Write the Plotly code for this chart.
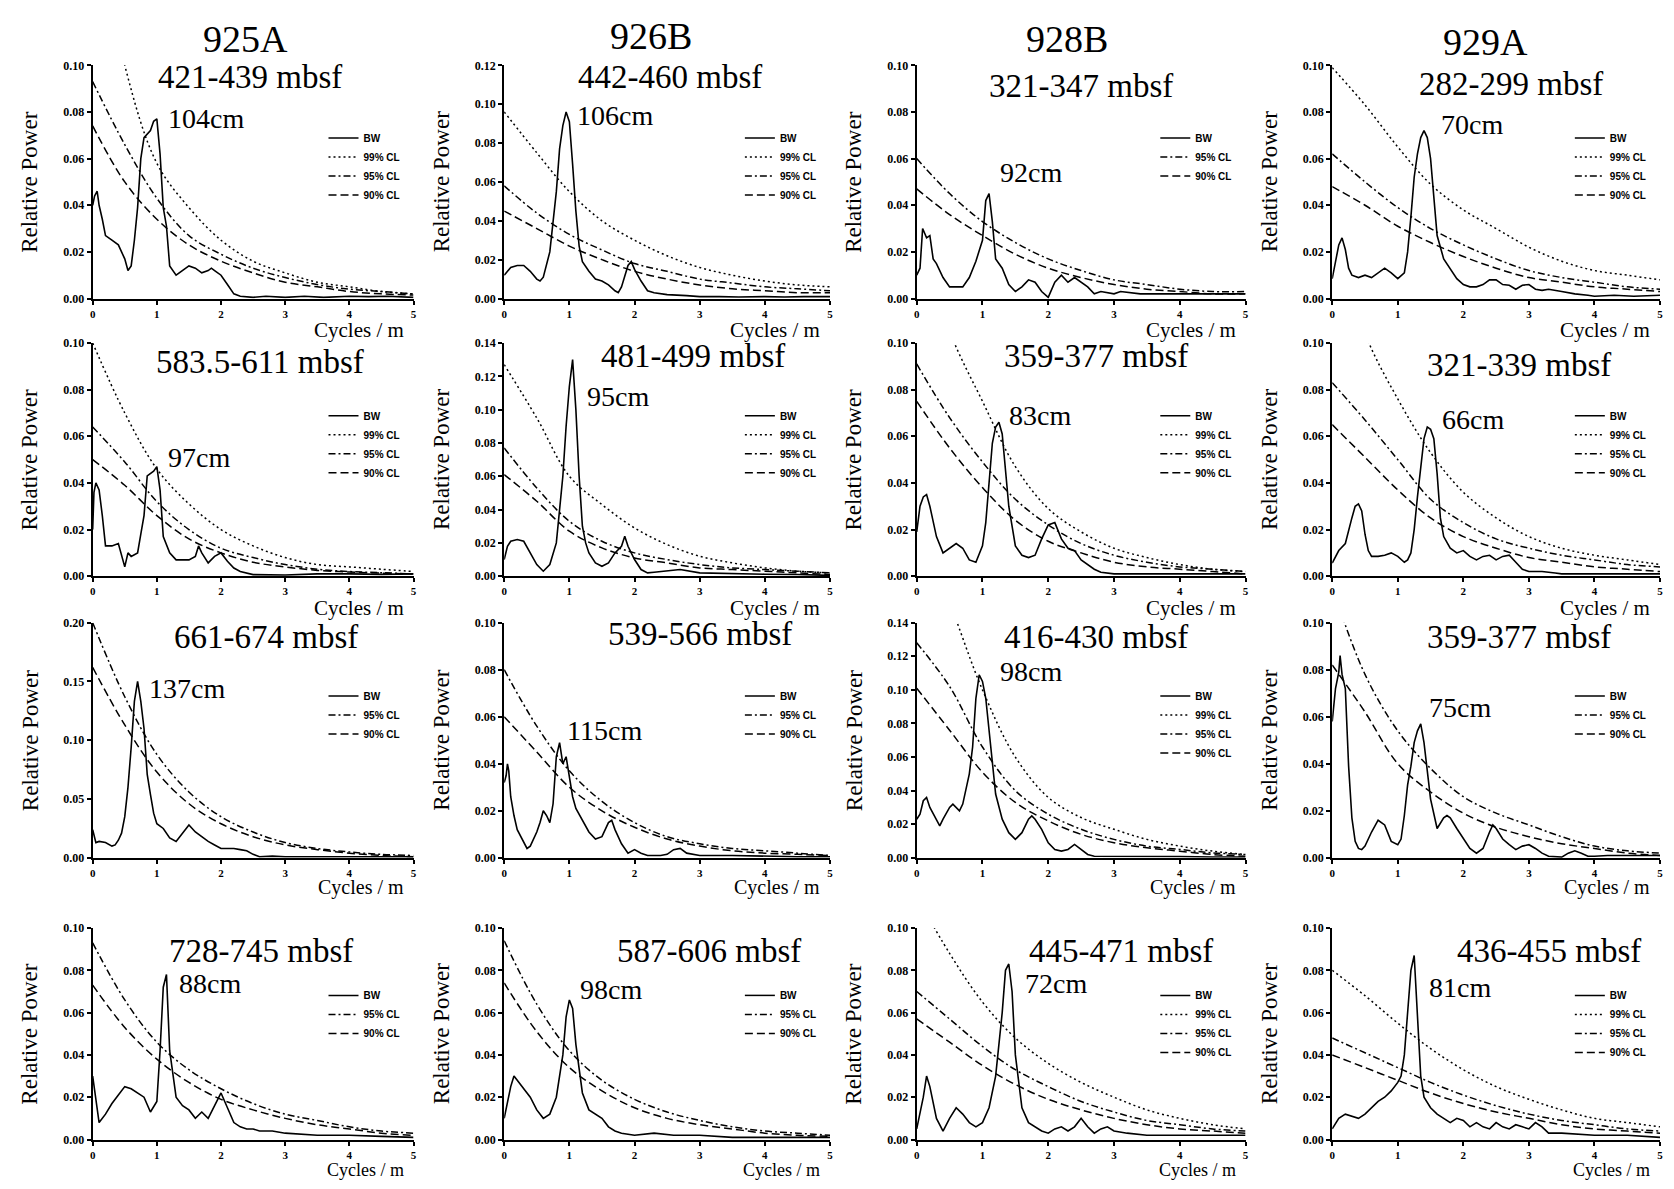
import plotly.graph_objects as go

W, H = 1674, 1189

sites = ["925A", "926B", "928B", "929A"]
depth_labels = [
    ["421-439 mbsf", "442-460 mbsf", "321-347 mbsf", "282-299 mbsf"],
    ["583.5-611 mbsf", "481-499 mbsf", "359-377 mbsf", "321-339 mbsf"],
    ["661-674 mbsf", "539-566 mbsf", "416-430 mbsf", "359-377 mbsf"],
    ["728-745 mbsf", "587-606 mbsf", "445-471 mbsf", "436-455 mbsf"],
]
peak_labels = [
    ["104cm", "106cm", "92cm", "70cm"],
    ["97cm", "95cm", "83cm", "66cm"],
    ["137cm", "115cm", "98cm", "75cm"],
    ["88cm", "98cm", "72cm", "81cm"],
]
y_max = [
    [0.10, 0.12, 0.10, 0.10],
    [0.10, 0.14, 0.10, 0.10],
    [0.20, 0.10, 0.14, 0.10],
    [0.10, 0.10, 0.10, 0.10],
]
x_ticks = [0, 1, 2, 3, 4, 5]

# ---- spectra (cycles / m , relative power) ----
freq_925A_421 = [0, 0.03, 0.07, 0.1, 0.15, 0.2, 0.3, 0.4, 0.5, 0.55, 0.6, 0.65, 0.7, 0.75, 0.8, 0.9, 0.95, 1.0, 1.05, 1.1,
                 1.15, 1.2, 1.3, 1.4, 1.5, 1.6, 1.7, 1.8, 1.85, 1.9, 2.0, 2.1, 2.2, 2.3, 2.5, 2.7, 3.0, 3.3, 3.6, 4.0, 4.3, 4.6, 5.0]
power_925A_421 = [0.040, 0.044, 0.046, 0.040, 0.034, 0.027, 0.025, 0.023, 0.017, 0.012, 0.014, 0.025, 0.039, 0.060, 0.069,
                  0.072, 0.076, 0.077, 0.062, 0.039, 0.031, 0.014, 0.010, 0.012, 0.014, 0.013, 0.011, 0.012, 0.013, 0.012,
                  0.010, 0.006, 0.002, 0.001, 0.0005, 0.001, 0.0005, 0.001, 0.0005, 0.001, 0.0008, 0.001, 0.0005]

freq_926B_442 = [0, 0.1, 0.2, 0.3, 0.4, 0.5, 0.55, 0.6, 0.7, 0.8, 0.85, 0.9, 0.95, 1.0, 1.05, 1.1, 1.15, 1.2, 1.3, 1.4, 1.5,
                 1.6, 1.7, 1.75, 1.8, 1.9, 1.95, 2.0, 2.1, 2.2, 2.3, 2.5, 2.8, 3.0, 3.3, 3.6, 4.0, 4.3, 4.6, 5.0]
power_926B_442 = [0.012, 0.016, 0.017, 0.017, 0.014, 0.010, 0.009, 0.011, 0.024, 0.055, 0.077, 0.089, 0.096, 0.091, 0.069,
                  0.045, 0.027, 0.019, 0.014, 0.010, 0.009, 0.007, 0.004, 0.003, 0.006, 0.017, 0.019, 0.015, 0.009, 0.004,
                  0.003, 0.002, 0.0015, 0.001, 0.001, 0.0008, 0.001, 0.0008, 0.001, 0.001]

freq_928B_321 = [0, 0.05, 0.09, 0.15, 0.2, 0.25, 0.3, 0.4, 0.5, 0.6, 0.7, 0.8, 0.9, 1.0, 1.05, 1.1, 1.15, 1.2, 1.3, 1.4, 1.5,
                 1.6, 1.7, 1.8, 1.9, 2.0, 2.1, 2.2, 2.3, 2.4, 2.5, 2.6, 2.7, 2.8, 3.0, 3.1, 3.4, 3.7, 4.0, 4.3, 4.6, 5.0]
power_928B_321 = [0.010, 0.013, 0.030, 0.026, 0.027, 0.017, 0.015, 0.009, 0.005, 0.005, 0.005, 0.009, 0.016, 0.025, 0.042,
                  0.045, 0.033, 0.017, 0.013, 0.006, 0.003, 0.005, 0.008, 0.007, 0.003, 0.0005, 0.007, 0.010, 0.007, 0.009,
                  0.007, 0.005, 0.002, 0.003, 0.002, 0.003, 0.002, 0.002, 0.002, 0.002, 0.002, 0.002]

freq_929A_282 = [0, 0.05, 0.1, 0.15, 0.2, 0.25, 0.3, 0.4, 0.5, 0.6, 0.7, 0.8, 0.9, 1.0, 1.1, 1.15, 1.2, 1.25, 1.3, 1.35, 1.4,
                 1.45, 1.5, 1.55, 1.6, 1.7, 1.8, 1.9, 2.0, 2.1, 2.2, 2.3, 2.4, 2.5, 2.6, 2.7, 2.8, 2.9, 3.0, 3.1, 3.2, 3.3,
                 3.5, 3.7, 3.9, 4.0, 4.3, 4.6, 5.0]
power_929A_282 = [0.0085, 0.016, 0.023, 0.026, 0.021, 0.013, 0.010, 0.009, 0.010, 0.009, 0.011, 0.013, 0.011, 0.0085, 0.011,
                  0.020, 0.035, 0.052, 0.062, 0.069, 0.072, 0.069, 0.060, 0.044, 0.027, 0.017, 0.013, 0.0085, 0.006, 0.005,
                  0.005, 0.006, 0.008, 0.008, 0.006, 0.0057, 0.004, 0.0057, 0.006, 0.004, 0.0035, 0.004, 0.003, 0.002,
                  0.0014, 0.001, 0.0014, 0.001, 0.0014]

freq_925A_583 = [0, 0.02, 0.05, 0.1, 0.15, 0.2, 0.3, 0.4, 0.5, 0.55, 0.6, 0.7, 0.75, 0.8, 0.85, 0.9, 0.95, 1.0, 1.05, 1.1,
                 1.2, 1.3, 1.4, 1.5, 1.6, 1.65, 1.7, 1.8, 1.9, 2.0, 2.1, 2.2, 2.3, 2.5, 3.0, 3.5, 4.0, 4.5, 5.0]
power_925A_583 = [0.020, 0.036, 0.040, 0.037, 0.026, 0.013, 0.013, 0.014, 0.004, 0.010, 0.0085, 0.010, 0.018, 0.026, 0.043,
                  0.044, 0.045, 0.047, 0.037, 0.017, 0.010, 0.007, 0.007, 0.007, 0.0085, 0.013, 0.010, 0.0057, 0.0085,
                  0.010, 0.0064, 0.0035, 0.002, 0.0007, 0.0005, 0.001, 0.001, 0.0008, 0.001]

freq_926B_481 = [0, 0.05, 0.1, 0.2, 0.3, 0.4, 0.5, 0.6, 0.7, 0.8, 0.85, 0.9, 0.95, 1.0, 1.05, 1.1, 1.15, 1.2, 1.25, 1.3, 1.4,
                 1.5, 1.6, 1.7, 1.8, 1.85, 1.9, 2.0, 2.1, 2.2, 2.3, 2.5, 2.7, 3.0, 3.5, 4.0, 4.5, 5.0]
power_926B_481 = [0.010, 0.018, 0.021, 0.022, 0.021, 0.014, 0.007, 0.003, 0.007, 0.020, 0.040, 0.060, 0.090, 0.114, 0.130,
                  0.100, 0.060, 0.030, 0.020, 0.014, 0.008, 0.006, 0.008, 0.014, 0.018, 0.024, 0.018, 0.010, 0.004, 0.002,
                  0.0024, 0.003, 0.004, 0.002, 0.0015, 0.0012, 0.001, 0.0005]

freq_928B_359 = [0, 0.05, 0.1, 0.15, 0.2, 0.3, 0.4, 0.5, 0.6, 0.7, 0.8, 0.9, 1.0, 1.05, 1.1, 1.15, 1.2, 1.25, 1.3, 1.35, 1.4,
                 1.5, 1.6, 1.7, 1.8, 1.9, 2.0, 2.1, 2.2, 2.3, 2.4, 2.5, 2.6, 2.7, 2.8, 3.0, 3.5, 4.0, 4.5, 5.0]
power_928B_359 = [0.019, 0.030, 0.034, 0.035, 0.030, 0.017, 0.010, 0.012, 0.014, 0.012, 0.007, 0.006, 0.013, 0.023, 0.041,
                  0.057, 0.064, 0.066, 0.061, 0.047, 0.030, 0.013, 0.009, 0.008, 0.009, 0.016, 0.022, 0.023, 0.016, 0.012,
                  0.011, 0.007, 0.005, 0.003, 0.0017, 0.001, 0.001, 0.001, 0.001, 0.001]

freq_929A_321 = [0, 0.05, 0.1, 0.2, 0.25, 0.3, 0.35, 0.4, 0.45, 0.5, 0.55, 0.6, 0.7, 0.8, 0.9, 1.0, 1.1, 1.15, 1.2, 1.25,
                 1.3, 1.35, 1.4, 1.45, 1.5, 1.55, 1.6, 1.65, 1.7, 1.8, 1.9, 2.0, 2.1, 2.2, 2.3, 2.4, 2.5, 2.6, 2.7, 2.8,
                 2.9, 3.0, 3.2, 3.4, 3.5, 4.0, 4.5, 5.0]
power_929A_321 = [0.0056, 0.0085, 0.011, 0.014, 0.020, 0.025, 0.030, 0.031, 0.028, 0.018, 0.011, 0.0085, 0.0085, 0.009,
                  0.010, 0.0085, 0.006, 0.007, 0.010, 0.020, 0.034, 0.046, 0.059, 0.064, 0.063, 0.059, 0.044, 0.025, 0.017,
                  0.012, 0.010, 0.011, 0.0085, 0.007, 0.0085, 0.009, 0.007, 0.0085, 0.009, 0.006, 0.003, 0.002, 0.002,
                  0.0014, 0.001, 0.001, 0.001, 0.001]

freq_925A_661 = [0, 0.05, 0.1, 0.2, 0.3, 0.35, 0.4, 0.45, 0.5, 0.55, 0.6, 0.65, 0.7, 0.75, 0.8, 0.85, 0.9, 0.95, 1.0, 1.1,
                 1.2, 1.3, 1.4, 1.5, 1.6, 1.7, 1.8, 1.9, 2.0, 2.1, 2.2, 2.3, 2.4, 2.5, 2.6, 2.8, 3.0, 3.5, 4.0, 4.5, 5.0]
power_925A_661 = [0.024, 0.013, 0.014, 0.013, 0.010, 0.011, 0.015, 0.021, 0.035, 0.060, 0.094, 0.133, 0.150, 0.133, 0.110,
                  0.071, 0.054, 0.038, 0.029, 0.025, 0.017, 0.014, 0.021, 0.028, 0.022, 0.018, 0.014, 0.011, 0.008, 0.008,
                  0.008, 0.007, 0.006, 0.003, 0.001, 0.0015, 0.001, 0.001, 0.001, 0.001, 0.001]

freq_926B_539 = [0, 0.03, 0.05, 0.07, 0.1, 0.15, 0.2, 0.3, 0.35, 0.4, 0.5, 0.55, 0.6, 0.65, 0.7, 0.75, 0.8, 0.85, 0.9, 0.95,
                 1.0, 1.05, 1.1, 1.2, 1.3, 1.4, 1.5, 1.6, 1.65, 1.7, 1.8, 1.9, 2.0, 2.1, 2.2, 2.4, 2.5, 2.6, 2.7, 2.8, 3.0,
                 3.5, 4.0, 4.5, 5.0]
power_926B_539 = [0.032, 0.035, 0.040, 0.037, 0.026, 0.018, 0.012, 0.0064, 0.004, 0.005, 0.011, 0.015, 0.020, 0.018, 0.015,
                  0.023, 0.043, 0.049, 0.040, 0.043, 0.035, 0.026, 0.021, 0.016, 0.011, 0.008, 0.009, 0.015, 0.016, 0.012,
                  0.006, 0.002, 0.0035, 0.002, 0.001, 0.001, 0.0015, 0.0035, 0.004, 0.002, 0.001, 0.001, 0.0007, 0.0005,
                  0.0005]

freq_928B_416 = [0, 0.05, 0.1, 0.15, 0.2, 0.3, 0.35, 0.4, 0.5, 0.55, 0.6, 0.65, 0.7, 0.75, 0.8, 0.85, 0.9, 0.95, 1.0, 1.05,
                 1.1, 1.15, 1.2, 1.3, 1.4, 1.5, 1.6, 1.7, 1.75, 1.8, 1.9, 2.0, 2.1, 2.2, 2.3, 2.4, 2.5, 2.6, 2.7, 3.0, 3.5,
                 4.0, 4.5, 5.0]
power_928B_416 = [0.023, 0.026, 0.034, 0.036, 0.030, 0.023, 0.019, 0.023, 0.030, 0.032, 0.030, 0.028, 0.032, 0.042, 0.050,
                  0.066, 0.095, 0.109, 0.105, 0.095, 0.077, 0.056, 0.038, 0.023, 0.015, 0.011, 0.015, 0.023, 0.025, 0.023,
                  0.017, 0.009, 0.005, 0.004, 0.005, 0.008, 0.005, 0.002, 0.001, 0.001, 0.001, 0.0008, 0.0005, 0.0005]

freq_929A_359 = [0, 0.05, 0.1, 0.12, 0.15, 0.2, 0.25, 0.3, 0.35, 0.4, 0.45, 0.5, 0.6, 0.7, 0.8, 0.9, 1.0, 1.05, 1.1, 1.15,
                 1.2, 1.25, 1.3, 1.35, 1.4, 1.45, 1.5, 1.6, 1.7, 1.75, 1.8, 1.9, 2.0, 2.1, 2.2, 2.3, 2.4, 2.45, 2.5, 2.6,
                 2.7, 2.8, 2.9, 3.0, 3.1, 3.2, 3.3, 3.5, 3.6, 3.7, 3.8, 3.9, 4.0, 4.2, 4.5, 5.0]
power_929A_359 = [0.058, 0.072, 0.079, 0.086, 0.078, 0.072, 0.039, 0.017, 0.007, 0.004, 0.0035, 0.005, 0.011, 0.016, 0.014,
                  0.007, 0.0056, 0.008, 0.018, 0.031, 0.039, 0.049, 0.054, 0.057, 0.049, 0.038, 0.025, 0.0125, 0.017,
                  0.018, 0.017, 0.0125, 0.008, 0.004, 0.002, 0.004, 0.011, 0.014, 0.0125, 0.008, 0.0056, 0.0035, 0.005,
                  0.0056, 0.004, 0.002, 0.0007, 0.0003, 0.002, 0.003, 0.002, 0.0007, 0.0007, 0.001, 0.001, 0.001]

freq_925A_728 = [0, 0.1, 0.2, 0.3, 0.4, 0.5, 0.6, 0.7, 0.8, 0.9, 1.0, 1.05, 1.1, 1.15, 1.2, 1.3, 1.4, 1.5, 1.6, 1.7, 1.8,
                 1.9, 2.0, 2.1, 2.2, 2.3, 2.4, 2.5, 2.6, 2.8, 3.0, 3.5, 4.0, 4.5, 5.0]
power_925A_728 = [0.030, 0.008, 0.012, 0.017, 0.021, 0.025, 0.024, 0.022, 0.020, 0.013, 0.018, 0.042, 0.072, 0.078, 0.042,
                  0.020, 0.016, 0.014, 0.010, 0.013, 0.010, 0.016, 0.022, 0.015, 0.008, 0.006, 0.005, 0.005, 0.004, 0.004,
                  0.003, 0.002, 0.002, 0.0015, 0.001]

freq_926B_587 = [0, 0.1, 0.15, 0.2, 0.3, 0.4, 0.5, 0.6, 0.7, 0.8, 0.9, 0.95, 1.0, 1.05, 1.1, 1.2, 1.3, 1.4, 1.5, 1.6, 1.7,
                 1.8, 2.0, 2.3, 2.6, 3.0, 3.5, 4.0, 4.5, 5.0]
power_926B_587 = [0.010, 0.025, 0.030, 0.028, 0.024, 0.020, 0.014, 0.010, 0.012, 0.020, 0.040, 0.058, 0.066, 0.062, 0.045,
                  0.022, 0.014, 0.012, 0.010, 0.006, 0.004, 0.003, 0.002, 0.003, 0.002, 0.002, 0.001, 0.001, 0.001, 0.001]

freq_928B_445 = [0, 0.1, 0.15, 0.2, 0.3, 0.4, 0.5, 0.6, 0.7, 0.8, 0.9, 1.0, 1.1, 1.2, 1.3, 1.35, 1.4, 1.45, 1.5, 1.6, 1.7,
                 1.8, 1.9, 2.0, 2.1, 2.2, 2.3, 2.4, 2.5, 2.6, 2.7, 2.8, 2.9, 3.0, 3.2, 3.5, 4.0, 4.5, 5.0]
power_928B_445 = [0.005, 0.020, 0.030, 0.025, 0.010, 0.004, 0.010, 0.015, 0.012, 0.008, 0.006, 0.008, 0.015, 0.030, 0.060,
                  0.080, 0.083, 0.070, 0.040, 0.015, 0.008, 0.006, 0.004, 0.003, 0.005, 0.006, 0.004, 0.006, 0.010, 0.006,
                  0.003, 0.005, 0.006, 0.004, 0.003, 0.002, 0.002, 0.002, 0.002]

freq_929A_436 = [0, 0.1, 0.2, 0.3, 0.4, 0.5, 0.6, 0.7, 0.8, 0.9, 1.0, 1.05, 1.1, 1.15, 1.2, 1.25, 1.3, 1.35, 1.4, 1.5, 1.6,
                 1.7, 1.8, 1.9, 2.0, 2.1, 2.2, 2.3, 2.4, 2.5, 2.6, 2.7, 2.8, 2.9, 3.0, 3.1, 3.2, 3.3, 3.5, 4.0, 4.5, 5.0]
power_929A_436 = [0.005, 0.010, 0.012, 0.011, 0.010, 0.012, 0.015, 0.018, 0.020, 0.023, 0.027, 0.030, 0.040, 0.060, 0.080,
                  0.087, 0.060, 0.030, 0.020, 0.015, 0.012, 0.010, 0.008, 0.010, 0.009, 0.006, 0.008, 0.006, 0.005, 0.008,
                  0.006, 0.005, 0.007, 0.006, 0.005, 0.008, 0.006, 0.003, 0.003, 0.002, 0.002, 0.001]

# ---- confidence-level curves, read at these frequencies ----
CL_FREQ = [0, 0.5, 1.0, 1.5, 2.0, 2.5, 3.0, 3.5, 4.0, 4.5, 5.0]

cl99_925A_421 = [0.170, 0.100, 0.058, 0.039, 0.025, 0.016, 0.011, 0.007, 0.005, 0.003, 0.002]
cl95_925A_421 = [0.093, 0.066, 0.043, 0.027, 0.019, 0.013, 0.009, 0.006, 0.004, 0.003, 0.002]
cl90_925A_421 = [0.074, 0.050, 0.034, 0.023, 0.016, 0.011, 0.007, 0.005, 0.003, 0.002, 0.0015]

cl99_926B_442 = [0.096, 0.075, 0.055, 0.040, 0.030, 0.022, 0.016, 0.012, 0.009, 0.007, 0.006]
cl95_926B_442 = [0.058, 0.044, 0.033, 0.025, 0.018, 0.014, 0.010, 0.008, 0.006, 0.005, 0.004]
cl90_926B_442 = [0.045, 0.036, 0.027, 0.020, 0.014, 0.010, 0.007, 0.005, 0.004, 0.003, 0.003]

cl95_928B_321 = [0.060, 0.045, 0.033, 0.024, 0.017, 0.012, 0.008, 0.006, 0.004, 0.003, 0.003]
cl90_928B_321 = [0.047, 0.036, 0.027, 0.019, 0.013, 0.009, 0.006, 0.004, 0.003, 0.002, 0.002]

cl99_929A_282 = [0.099, 0.083, 0.065, 0.049, 0.038, 0.030, 0.022, 0.016, 0.012, 0.010, 0.008]
cl95_929A_282 = [0.062, 0.050, 0.039, 0.030, 0.023, 0.017, 0.012, 0.009, 0.007, 0.005, 0.004]
cl90_929A_282 = [0.048, 0.040, 0.031, 0.024, 0.018, 0.013, 0.009, 0.007, 0.005, 0.004, 0.003]

cl99_925A_583 = [0.100, 0.070, 0.046, 0.031, 0.020, 0.013, 0.008, 0.005, 0.004, 0.003, 0.002]
cl95_925A_583 = [0.064, 0.049, 0.032, 0.020, 0.012, 0.008, 0.005, 0.003, 0.002, 0.0015, 0.001]
cl90_925A_583 = [0.050, 0.039, 0.026, 0.016, 0.010, 0.006, 0.004, 0.0025, 0.0018, 0.0013, 0.001]

cl99_926B_481 = [0.127, 0.095, 0.060, 0.043, 0.029, 0.019, 0.012, 0.008, 0.005, 0.003, 0.002]
cl95_926B_481 = [0.077, 0.053, 0.033, 0.021, 0.014, 0.010, 0.007, 0.005, 0.004, 0.003, 0.002]
cl90_926B_481 = [0.061, 0.045, 0.027, 0.017, 0.011, 0.008, 0.005, 0.004, 0.003, 0.002, 0.001]

cl99_928B_359 = [0.150, 0.105, 0.075, 0.047, 0.029, 0.019, 0.012, 0.008, 0.005, 0.003, 0.002]
cl95_928B_359 = [0.091, 0.068, 0.049, 0.033, 0.022, 0.014, 0.009, 0.006, 0.004, 0.003, 0.002]
cl90_928B_359 = [0.075, 0.055, 0.038, 0.024, 0.015, 0.010, 0.006, 0.004, 0.003, 0.002, 0.001]

cl99_929A_321 = [0.150, 0.104, 0.076, 0.053, 0.036, 0.025, 0.017, 0.012, 0.009, 0.007, 0.005]
cl95_929A_321 = [0.083, 0.067, 0.050, 0.033, 0.023, 0.016, 0.012, 0.009, 0.007, 0.005, 0.004]
cl90_929A_321 = [0.065, 0.051, 0.037, 0.025, 0.017, 0.012, 0.008, 0.006, 0.004, 0.003, 0.002]

cl95_925A_661 = [0.200, 0.137, 0.088, 0.056, 0.035, 0.022, 0.013, 0.008, 0.005, 0.003, 0.002]
cl90_925A_661 = [0.162, 0.113, 0.073, 0.046, 0.029, 0.018, 0.011, 0.007, 0.004, 0.002, 0.001]

cl95_926B_539 = [0.080, 0.056, 0.037, 0.024, 0.015, 0.009, 0.006, 0.004, 0.003, 0.002, 0.001]
cl90_926B_539 = [0.060, 0.045, 0.030, 0.020, 0.013, 0.008, 0.005, 0.003, 0.002, 0.0015, 0.001]

cl99_928B_416 = [0.200, 0.152, 0.100, 0.060, 0.036, 0.024, 0.017, 0.011, 0.007, 0.004, 0.002]
cl95_928B_416 = [0.128, 0.102, 0.066, 0.040, 0.026, 0.017, 0.011, 0.007, 0.005, 0.003, 0.002]
cl90_928B_416 = [0.101, 0.076, 0.051, 0.033, 0.022, 0.014, 0.009, 0.006, 0.004, 0.002, 0.001]

cl95_929A_359 = [0.115, 0.078, 0.054, 0.038, 0.026, 0.019, 0.014, 0.009, 0.005, 0.003, 0.002]
cl90_929A_359 = [0.082, 0.062, 0.040, 0.028, 0.019, 0.013, 0.009, 0.006, 0.004, 0.002, 0.001]

cl95_925A_728 = [0.093, 0.066, 0.046, 0.033, 0.024, 0.017, 0.012, 0.009, 0.006, 0.004, 0.003]
cl90_925A_728 = [0.073, 0.053, 0.038, 0.027, 0.019, 0.014, 0.010, 0.007, 0.005, 0.003, 0.002]

cl95_926B_587 = [0.094, 0.064, 0.042, 0.028, 0.019, 0.013, 0.009, 0.006, 0.004, 0.003, 0.002]
cl90_926B_587 = [0.074, 0.051, 0.034, 0.023, 0.015, 0.010, 0.007, 0.005, 0.003, 0.002, 0.0015]

cl99_928B_445 = [0.115, 0.088, 0.065, 0.048, 0.036, 0.027, 0.020, 0.014, 0.010, 0.007, 0.005]
cl95_928B_445 = [0.070, 0.057, 0.044, 0.033, 0.025, 0.018, 0.013, 0.009, 0.007, 0.005, 0.004]
cl90_928B_445 = [0.057, 0.046, 0.035, 0.026, 0.019, 0.014, 0.010, 0.007, 0.005, 0.004, 0.003]

cl99_929A_436 = [0.080, 0.068, 0.055, 0.043, 0.033, 0.025, 0.019, 0.014, 0.010, 0.008, 0.006]
cl95_929A_436 = [0.048, 0.041, 0.034, 0.027, 0.021, 0.016, 0.012, 0.009, 0.007, 0.005, 0.004]
cl90_929A_436 = [0.040, 0.034, 0.028, 0.022, 0.017, 0.013, 0.010, 0.007, 0.005, 0.004, 0.003]

# panel order: row by row
panels = [
    (freq_925A_421, power_925A_421, cl99_925A_421, cl95_925A_421, cl90_925A_421),
    (freq_926B_442, power_926B_442, cl99_926B_442, cl95_926B_442, cl90_926B_442),
    (freq_928B_321, power_928B_321, None, cl95_928B_321, cl90_928B_321),
    (freq_929A_282, power_929A_282, cl99_929A_282, cl95_929A_282, cl90_929A_282),
    (freq_925A_583, power_925A_583, cl99_925A_583, cl95_925A_583, cl90_925A_583),
    (freq_926B_481, power_926B_481, cl99_926B_481, cl95_926B_481, cl90_926B_481),
    (freq_928B_359, power_928B_359, cl99_928B_359, cl95_928B_359, cl90_928B_359),
    (freq_929A_321, power_929A_321, cl99_929A_321, cl95_929A_321, cl90_929A_321),
    (freq_925A_661, power_925A_661, None, cl95_925A_661, cl90_925A_661),
    (freq_926B_539, power_926B_539, None, cl95_926B_539, cl90_926B_539),
    (freq_928B_416, power_928B_416, cl99_928B_416, cl95_928B_416, cl90_928B_416),
    (freq_929A_359, power_929A_359, None, cl95_929A_359, cl90_929A_359),
    (freq_925A_728, power_925A_728, None, cl95_925A_728, cl90_925A_728),
    (freq_926B_587, power_926B_587, None, cl95_926B_587, cl90_926B_587),
    (freq_928B_445, power_928B_445, cl99_928B_445, cl95_928B_445, cl90_928B_445),
    (freq_929A_436, power_929A_436, cl99_929A_436, cl95_929A_436, cl90_929A_436),
]

# ---- layout geometry (pixels) ----
COL_X = [(90, 412), (503, 830), (917, 1247), (1334, 1663)]
ROW_Y = [(59, 295), (340, 576), (623, 861), (932, 1146)]
CYCLES_DY = [32, 32, 30, 31]
CYCLES_SIZE = [21, 21, 20, 18]
SITE_POS = [(243, 32), (650, 29), (1068, 32), (1488, 35)]
# depth label centre, fraction of the panel (x, y)
DEPTH_POS = [
    [(0.49, 0.95), (0.51, 0.95), (0.50, 0.91), (0.545, 0.92)],
    [(0.52, 0.92), (0.58, 0.945), (0.545, 0.945), (0.57, 0.907)],
    [(0.54, 0.937), (0.60, 0.95), (0.545, 0.94), (0.57, 0.94)],
    [(0.525, 0.89), (0.63, 0.89), (0.62, 0.89), (0.66, 0.89)],
]
# left edge / centre of the peak label, data units
PEAK_POS = [
    [(1.15, 0.077), (1.08, 0.094), (1.23, 0.054), (1.63, 0.0745)],
    [(1.15, 0.051), (1.24, 0.108), (1.37, 0.069), (1.64, 0.067)],
    [(0.85, 0.144), (0.94, 0.054), (1.24, 0.111), (1.44, 0.064)],
    [(1.32, 0.074), (1.14, 0.071), (1.62, 0.074), (1.45, 0.072)],
]

SERIF = "Liberation Serif"
CL_STYLE = {"99% CL": "2px,3px", "95% CL": "7px,3px,2px,3px", "90% CL": "8px,4px"}

fig = go.Figure()
annotations = []
layout_axes = {}

for r in range(4):
    for c in range(4):
        k = r * 4 + c
        n = k + 1
        sfx = "" if n == 1 else str(n)
        xa, ya = "x" + sfx, "y" + sfx
        lg = "legend" if n == 1 else "legend" + str(n)
        fx, fy, c99, c95, c90 = panels[k]
        x0, x1 = COL_X[c]
        y0, y1 = ROW_Y[r]
        ymax = y_max[r][c]

        fig.add_trace(go.Scatter(x=fx, y=fy, mode="lines", xaxis=xa, yaxis=ya,
                                 line=dict(color="black", width=1.6), showlegend=False))
        # legend-only entry for the bandwidth bar
        fig.add_trace(go.Scatter(x=[None], y=[None], mode="lines", xaxis=xa, yaxis=ya, name="BW",
                                 legend=lg, line=dict(color="black", width=1.5)))
        for name, vals in (("99% CL", c99), ("95% CL", c95), ("90% CL", c90)):
            if vals is None:
                continue
            fig.add_trace(go.Scatter(x=CL_FREQ, y=vals, mode="lines", xaxis=xa, yaxis=ya, name=name,
                                     legend=lg, line=dict(color="black", width=1.5, dash=CL_STYLE[name],
                                                          shape="spline", smoothing=1.0)))

        tick_font = dict(family=SERIF, size=12, color="black", weight="bold")
        layout_axes["xaxis" + sfx] = dict(
            domain=[x0 / W, x1 / W], anchor=ya, range=[0, 5], tickvals=x_ticks,
            showline=True, linecolor="black", linewidth=2, ticks="outside", ticklen=4, tickwidth=1.5,
            tickcolor="black", showgrid=False, zeroline=False,
            tickfont=dict(tick_font, size=11))
        layout_axes["yaxis" + sfx] = dict(
            domain=[1 - y1 / H, 1 - y0 / H], anchor=xa, range=[0, ymax],
            dtick=0.05 if ymax == 0.20 else 0.02, tickformat=".2f",
            showline=True, linecolor="black", linewidth=2, ticks="outside", ticklen=4, tickwidth=1.5,
            tickcolor="black", showgrid=False, zeroline=False, tickfont=tick_font)

        pw, ph = x1 - x0, y1 - y0
        layout_axes[lg] = dict(
            x=(x0 + 0.975 * pw) / W, y=1 - (y1 - 0.75 * ph) / H, xanchor="right", yanchor="top",
            bgcolor="rgba(0,0,0,0)", borderwidth=0, itemwidth=30, tracegroupgap=0,
            font=dict(family="Liberation Sans", size=10, color="black", weight="bold"))

        dx, dy = DEPTH_POS[r][c]
        annotations.append(dict(text=depth_labels[r][c], xref=xa + " domain", yref=ya + " domain",
                                x=dx, y=dy, xanchor="center", yanchor="middle", showarrow=False,
                                font=dict(family=SERIF, size=33, color="black")))
        px, py = PEAK_POS[r][c]
        annotations.append(dict(text=peak_labels[r][c], xref=xa, yref=ya, x=px, y=py,
                                xanchor="left", yanchor="middle", showarrow=False,
                                font=dict(family=SERIF, size=28, color="black")))
        annotations.append(dict(text="Relative Power", xref=xa + " domain", yref=ya + " domain",
                                x=-63 / pw, y=0.5, textangle=-90, xanchor="center", yanchor="middle",
                                showarrow=False, font=dict(family=SERIF, size=23, color="black")))
        annotations.append(dict(text="Cycles / m", xref=xa + " domain", yref=ya + " domain",
                                x=1 - 8 / pw, y=-CYCLES_DY[r] / ph, xanchor="right", yanchor="middle",
                                showarrow=False, font=dict(family=SERIF, size=CYCLES_SIZE[r], color="black")))

for c in range(4):
    sx, sy = SITE_POS[c]
    annotations.append(dict(text=sites[c], xref="paper", yref="paper", x=sx / W, y=1 - sy / H,
                            xanchor="center", yanchor="middle", showarrow=False,
                            font=dict(family=SERIF, size=38, color="black")))

fig.update_layout(
    width=W, height=H,
    margin=dict(l=0, r=0, t=0, b=0),
    paper_bgcolor="white", plot_bgcolor="white",
    annotations=annotations,
    **layout_axes,
)

# the page's default 8px body margin would push the figure off its pixel grid
fig.write_html("out.html", config={"displayModeBar": False},
               post_script="document.body.style.margin = '0';")
